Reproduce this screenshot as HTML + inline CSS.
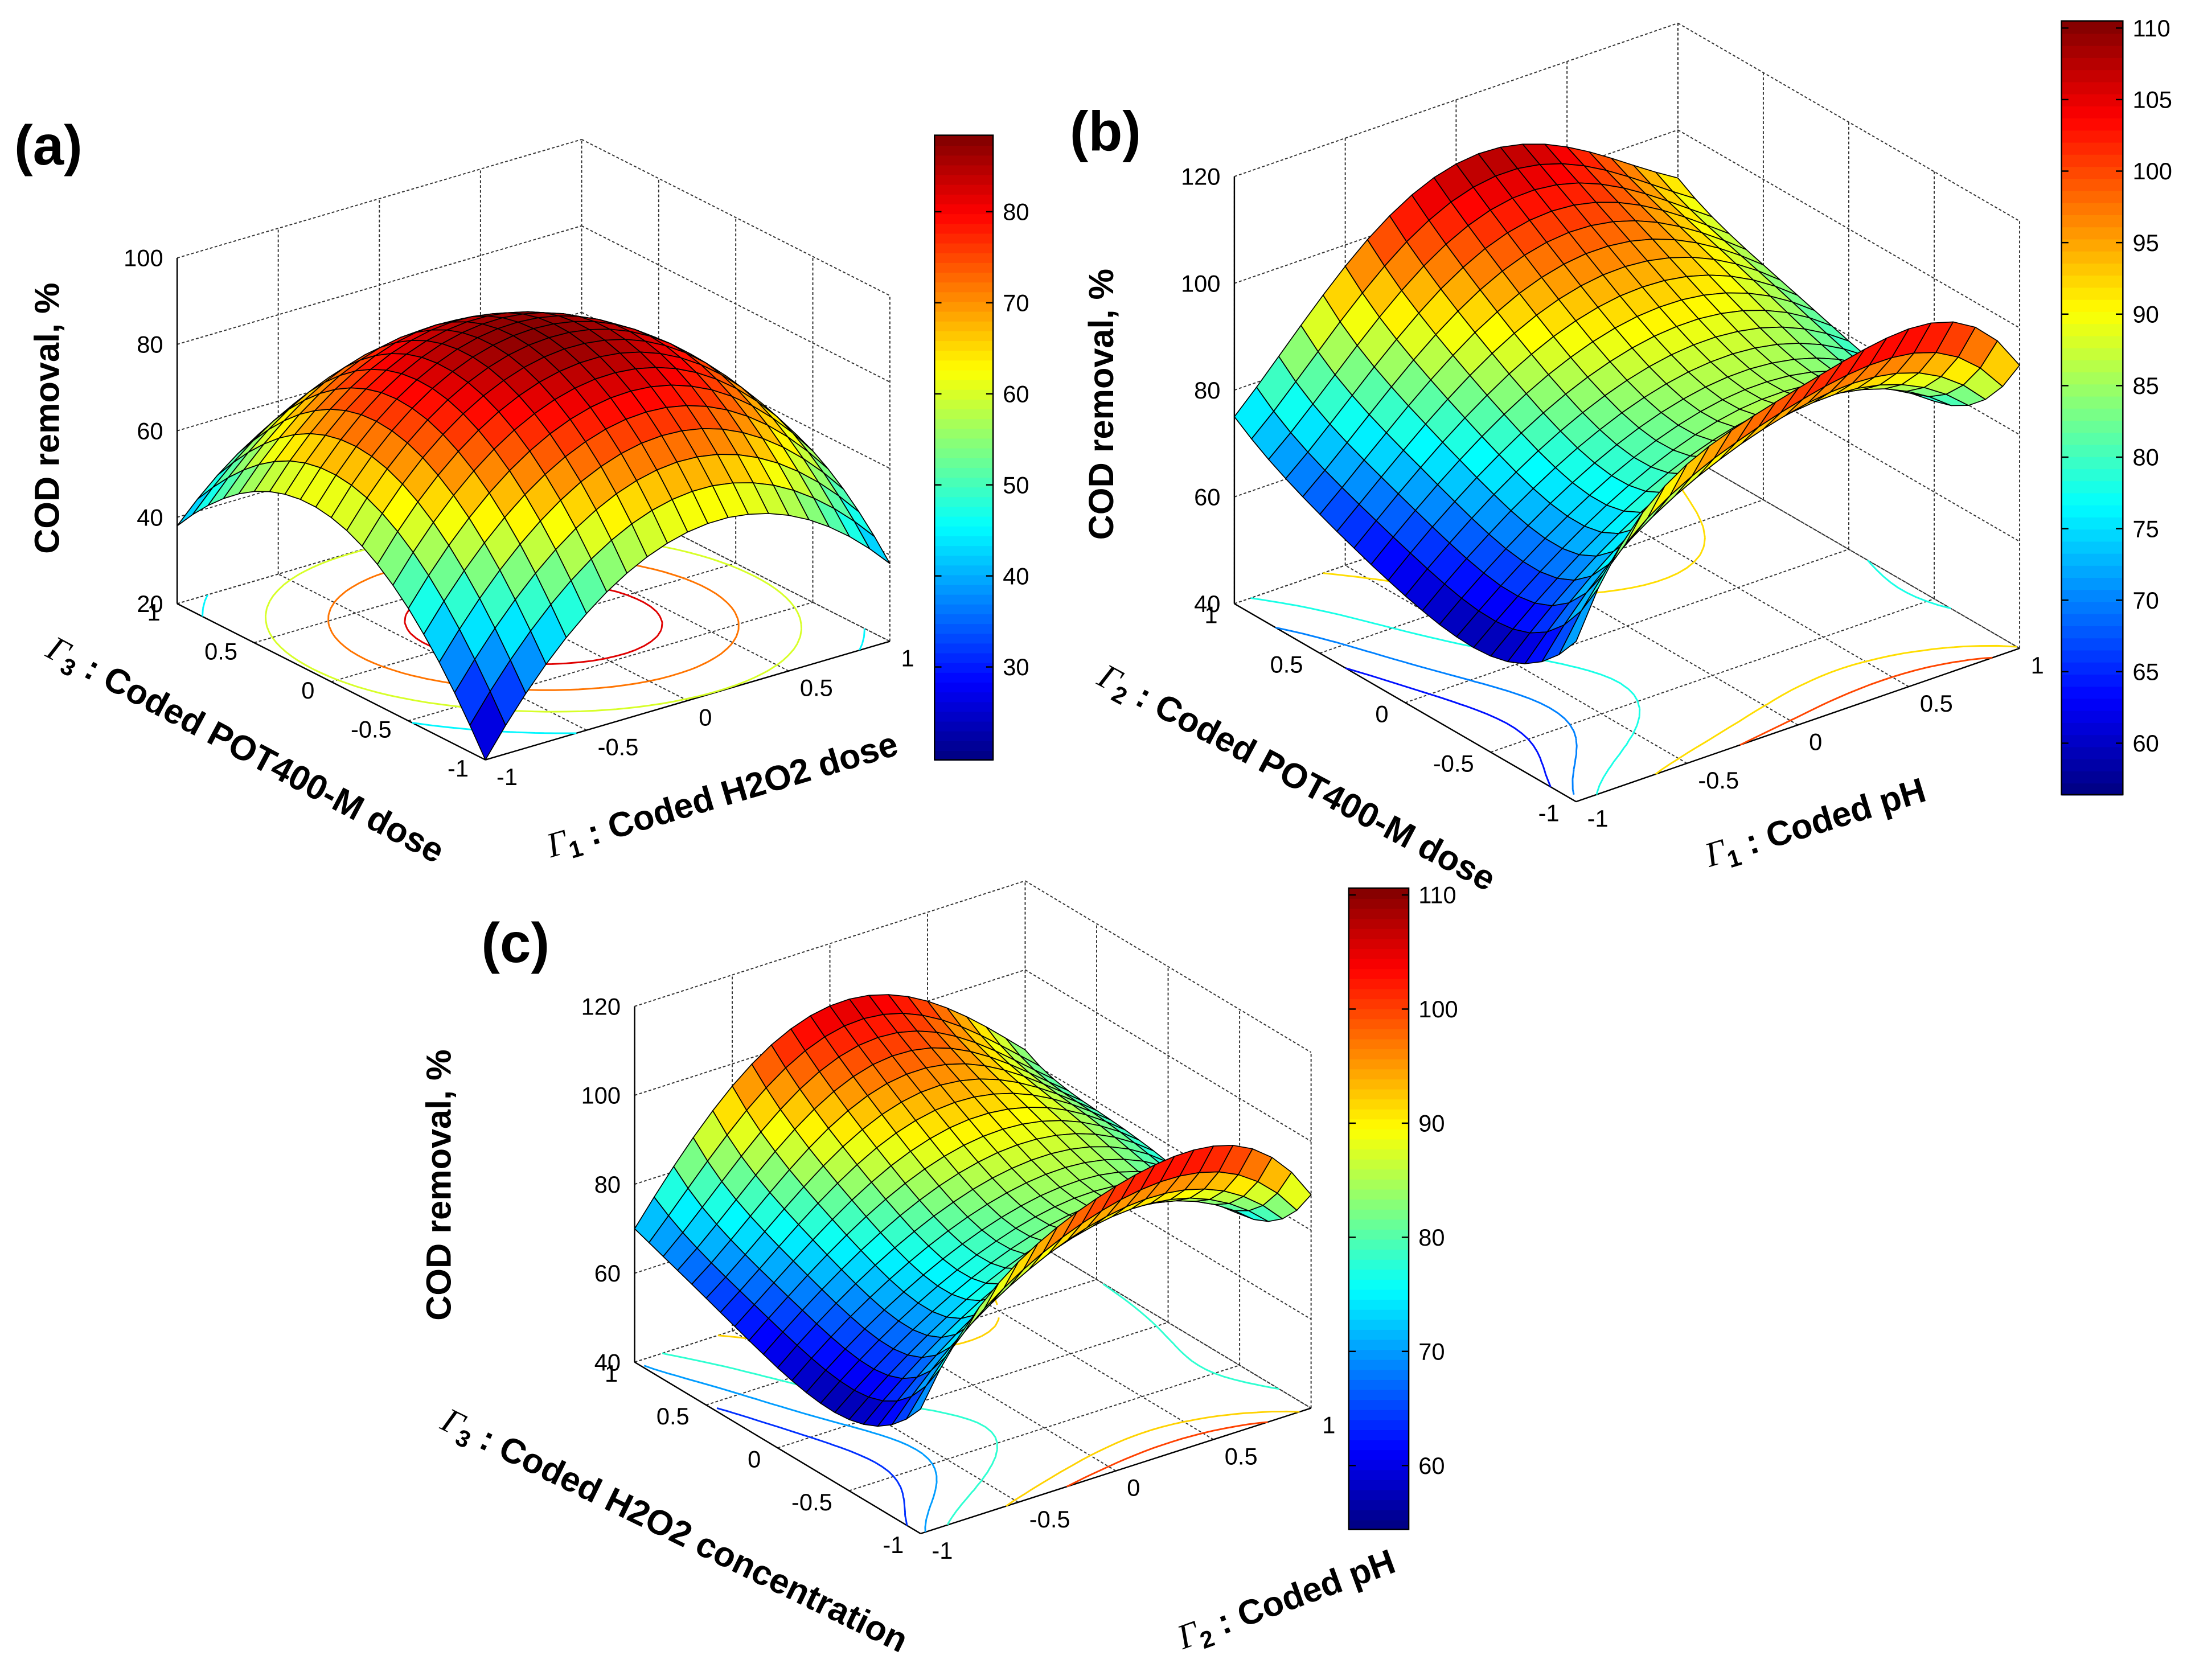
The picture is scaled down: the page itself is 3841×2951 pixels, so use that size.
<!DOCTYPE html>
<html><head><meta charset="utf-8"><style>
html,body{margin:0;padding:0;background:#fff;}
svg{display:block;}
text{font-family:"Liberation Sans",sans-serif;}
</style></head><body>
<svg id="fig" xmlns="http://www.w3.org/2000/svg" width="3841" height="2951" viewBox="0 0 1568 1205" preserveAspectRatio="none">
<rect x="0" y="0" width="1568" height="1205" fill="#fff"/>
</svg>
<script>
// ---- data ----
const codedNodes = [-1, -0.5, 0, 0.5, 1];
const zTicksA = [20, 40, 60, 80, 100];
const zTicksBC = [40, 60, 80, 100, 120];
const axisTickLabels = ["-1", "-0.5", "0", "0.5", "1"];
// rows: second factor (v) = -1..1 ; cols: first factor (u) = -1..1
const surfA = [
  [20, 47, 59, 56, 38],
  [46, 71, 81, 76, 55],
  [58, 81, 88, 81, 58],
  [55, 76, 81, 71, 46],
  [38, 56, 59, 47, 20]
];
const surfB = [
  [70, 96, 103, 107, 93],
  [58, 74, 84, 86, 77],
  [60, 76, 86, 88, 79],
  [66, 84, 96, 96, 84],
  [75, 96, 108, 104, 91]
];
const surfC = [
  [68, 94, 104, 106, 88],
  [56, 72, 82, 84, 74],
  [58, 74, 84, 86, 76],
  [64, 82, 94, 92, 78],
  [70, 95, 106, 100, 82]
];
const cbTicksA = [30, 40, 50, 60, 70, 80];
const cbTicksB = [60, 65, 70, 75, 80, 85, 90, 95, 100, 105, 110];
const cbTicksC = [60, 70, 80, 90, 100, 110];
const contourA = [45, 60, 72, 82];
const contourB = [64, 70, 78, 92, 100];
const contourC = [64, 70, 78, 92, 100];

const NS = "http://www.w3.org/2000/svg";
const svg = document.getElementById('fig');
function mk(tag, attrs, parent) {
  const e = document.createElementNS(NS, tag);
  for (const k in attrs) e.setAttribute(k, attrs[k]);
  (parent || svg).appendChild(e);
  return e;
}
function clamp(x){return Math.max(0,Math.min(1,x));}
function jet(t){
  t = clamp(t);
  const r = clamp(1.5-Math.abs(4*t-3)), g = clamp(1.5-Math.abs(4*t-2)), b = clamp(1.5-Math.abs(4*t-1));
  return 'rgb('+Math.round(r*255)+','+Math.round(g*255)+','+Math.round(b*255)+')';
}
function lag(t){
  return codedNodes.map((ni,i)=>codedNodes.reduce((p,nj,j)=>j===i?p:p*(t-nj)/(ni-nj),1));
}
function evalSurf(grid,u,v){
  const lu = lag(u), lv = lag(v); let s = 0;
  for (let i=0;i<5;i++) for (let j=0;j<5;j++) s += grid[i][j]*lv[i]*lu[j];
  return s;
}

function panel(P){
  const g = mk('g', {});
  
  
  const proj = (u,v,z)=>[P.ox+(u+1)/2*P.U[0]+(v+1)/2*P.V[0], P.oy+(u+1)/2*P.U[1]+(v+1)/2*P.V[1]-(z-P.z0)*P.zs];
  const dash = {stroke:'#333','stroke-width':0.8,'stroke-dasharray':'2,1.5',fill:'none'};
  const line = (a,b,st)=>mk('line',Object.assign({x1:a[0],y1:a[1],x2:b[0],y2:b[1]},st),g);
  const zt = P.zTicks, ztop = zt[zt.length-1];
  codedNodes.forEach(t=>{
    line(proj(t,1,P.z0),proj(t,1,ztop),dash);
    line(proj(1,t,P.z0),proj(1,t,ztop),dash);
    line(proj(t,-1,P.z0),proj(t,1,P.z0),dash);
    line(proj(-1,t,P.z0),proj(1,t,P.z0),dash);
  });
  zt.forEach(z=>{
    line(proj(-1,1,z),proj(1,1,z),dash);
    line(proj(1,1,z),proj(1,-1,z),dash);
  });
  const solid = {stroke:'#000','stroke-width':1,fill:'none'};
  line(proj(-1,1,P.z0),proj(-1,1,ztop),solid);
  line(proj(-1,-1,P.z0),proj(-1,1,P.z0),solid);
  line(proj(-1,-1,P.z0),proj(1,-1,P.z0),solid);
  // contours on floor
  const N2 = 40;
  const vals = [];
  for (let i=0;i<=N2;i++){ vals.push([]); for (let j=0;j<=N2;j++) vals[i].push(evalSurf(P.grid,-1+2*j/N2,-1+2*i/N2)); }
  P.levels.forEach(lv=>{
    let d = '';
    for (let i=0;i<N2;i++) for (let j=0;j<N2;j++){
      const c = [[j,i],[j+1,i],[j+1,i+1],[j,i+1]];
      const pts = [];
      for (let k=0;k<4;k++){
        const a=c[k], b=c[(k+1)%4];
        const va=vals[a[1]][a[0]], vb=vals[b[1]][b[0]];
        if ((va-lv)*(vb-lv)<0){
          const t=(lv-va)/(vb-va);
          const jj=a[0]+t*(b[0]-a[0]), ii=a[1]+t*(b[1]-a[1]);
          pts.push(proj(-1+2*jj/N2,-1+2*ii/N2,P.z0));
        }
      }
      if (pts.length>=2) d += 'M'+pts[0][0].toFixed(1)+' '+pts[0][1].toFixed(1)+'L'+pts[1][0].toFixed(1)+' '+pts[1][1].toFixed(1);
      if (pts.length===4) d += 'M'+pts[2][0].toFixed(1)+' '+pts[2][1].toFixed(1)+'L'+pts[3][0].toFixed(1)+' '+pts[3][1].toFixed(1);
    }
    const cp = mk('path',{d:d,stroke:jet((lv-P.cmin)/(P.cmax-P.cmin)),'stroke-width':1.2,fill:'none'},g);
    
    
  });
  // surface
  const N = 20;
  const quads = [];
  for (let i=0;i<N;i++) for (let j=0;j<N;j++){
    const u0=-1+2*j/N,u1=-1+2*(j+1)/N,v0=-1+2*i/N,v1=-1+2*(i+1)/N;
    const zs=[evalSurf(P.grid,u0,v0),evalSurf(P.grid,u1,v0),evalSurf(P.grid,u1,v1),evalSurf(P.grid,u0,v1)];
    quads.push({d:(u0+u1+v0+v1)/4, pts:[proj(u0,v0,zs[0]),proj(u1,v0,zs[1]),proj(u1,v1,zs[2]),proj(u0,v1,zs[3])], z:(zs[0]+zs[1]+zs[2]+zs[3])/4});
  }
  quads.sort((a,b)=>b.d-a.d);
  const sg = mk('g',{},g);
  
  
  quads.forEach(q=>{
    const p = mk('polygon',{points:q.pts.map(p=>p[0].toFixed(1)+','+p[1].toFixed(1)).join(' '),fill:jet((q.z-P.cmin)/(P.cmax-P.cmin)),stroke:'#000','stroke-width':0.7,'stroke-linejoin':'round'},sg);
    
    
  });
  zt.forEach(z=>{
    const p = proj(-1,1,z);
    const t = mk('text',{x:p[0]-10,y:p[1]+6,'font-size':17,'text-anchor':'end'},g);
    t.textContent = z;
    
    
  });
  codedNodes.forEach((c,k)=>{
    const p = proj(-1,c,P.z0);
    const t = mk('text',{x:p[0]+P.vOff[0],y:p[1]+P.vOff[1],'font-size':17,'text-anchor':'end'},g);
    t.textContent = axisTickLabels[k];
    
    
    const q = proj(c,-1,P.z0);
    const t2 = mk('text',{x:q[0]+P.uOff[0],y:q[1]+P.uOff[1],'font-size':17,'text-anchor':'start'},g);
    t2.textContent = axisTickLabels[k];
    
    
  });
  const cb = P.cb;
  const cbg = mk('g',{},g);
  
  
  const nb = 64;
  for (let k=0;k<nb;k++){
    mk('rect',{x:cb.x,y:cb.y+cb.h*(nb-1-k)/nb,width:cb.w,height:cb.h/nb+0.6,fill:jet((k+0.5)/nb)},cbg);
  }
  mk('rect',{x:cb.x,y:cb.y,width:cb.w,height:cb.h,fill:'none',stroke:'#000','stroke-width':1},cbg);
  cb.ticks.forEach(v=>{
    const y = cb.y+cb.h*(1-(v-P.cmin)/(P.cmax-P.cmin));
    mk('line',{x1:cb.x,y1:y,x2:cb.x+5,y2:y,stroke:'#000','stroke-width':1},cbg);
    mk('line',{x1:cb.x+cb.w-5,y1:y,x2:cb.x+cb.w,y2:y,stroke:'#000','stroke-width':1},cbg);
    const t = mk('text',{x:cb.x+cb.w+7,y:y+6,'font-size':17},cbg);
    t.textContent = v;
    
    
  });
}

panel({name:'panel-a', grid:surfA, ox:348, oy:545, U:[290,-85], V:[-221,-112], z0:20, zs:3.1, zTicks:zTicksA,
  cmin:19.8, cmax:88.4, levels:contourA, vOff:[-12,12], uOff:[8,18],
  cb:{x:670,y:97,w:42,h:448,ticks:cbTicksA}});
panel({name:'panel-b', grid:surfB, ox:1130, oy:575, U:[318,-110], V:[-245,-142], z0:40, zs:3.83, zTicks:zTicksBC,
  cmin:56.4, cmax:110.5, levels:contourB, vOff:[-12,14], uOff:[8,18],
  cb:{x:1478,y:15,w:44,h:555,ticks:cbTicksB}});
panel({name:'panel-c', grid:surfC, ox:660, oy:1100, U:[280,-90], V:[-205,-123], z0:40, zs:3.19, zTicks:zTicksBC,
  cmin:54.4, cmax:110.6, levels:contourC, vOff:[-12,14], uOff:[8,18],
  cb:{x:967,y:637,w:43,h:460,ticks:cbTicksC}});
</script>
<svg style="position:absolute;left:0;top:0" width="3841" height="2951" viewBox="0 0 1568 1205" xmlns="http://www.w3.org/2000/svg">
<g font-family="Liberation Sans, sans-serif" font-weight="bold">
<text x="10" y="118" font-size="40">(a)</text>
<text x="767" y="108" font-size="40">(b)</text>
<text x="345" y="690" font-size="40">(c)</text>
<text transform="translate(42,300) rotate(-90)" text-anchor="middle" font-size="25">COD removal, %</text>
<text transform="translate(798,290) rotate(-90)" text-anchor="middle" font-size="25">COD removal, %</text>
<text transform="translate(323,850) rotate(-90)" text-anchor="middle" font-size="25">COD removal, %</text>
<text transform="translate(172,545) rotate(28)" text-anchor="middle" font-size="25"><tspan font-style="italic" font-weight="normal" font-family="Liberation Serif, serif">Γ</tspan><tspan font-size="17" dy="5">3</tspan><tspan dy="-5"> : Coded POT400-M dose</tspan></text>
<text transform="translate(520,578) rotate(-16.5)" text-anchor="middle" font-size="25"><tspan font-style="italic" font-weight="normal" font-family="Liberation Serif, serif">Γ</tspan><tspan font-size="17" dy="5">1</tspan><tspan dy="-5"> : Coded H2O2  dose</tspan></text>
<text transform="translate(926,565) rotate(28)" text-anchor="middle" font-size="25"><tspan font-style="italic" font-weight="normal" font-family="Liberation Serif, serif">Γ</tspan><tspan font-size="17" dy="5">2</tspan><tspan dy="-5"> : Coded POT400-M dose</tspan></text>
<text transform="translate(1304,598) rotate(-17)" text-anchor="middle" font-size="25"><tspan font-style="italic" font-weight="normal" font-family="Liberation Serif, serif">Γ</tspan><tspan font-size="17" dy="5">1</tspan><tspan dy="-5"> : Coded  pH</tspan></text>
<text transform="translate(480,1105) rotate(26)" text-anchor="middle" font-size="25"><tspan font-style="italic" font-weight="normal" font-family="Liberation Serif, serif">Γ</tspan><tspan font-size="17" dy="5">3</tspan><tspan dy="-5"> : Coded H2O2 concentration</tspan></text>
<text transform="translate(925,1155) rotate(-20)" text-anchor="middle" font-size="25"><tspan font-style="italic" font-weight="normal" font-family="Liberation Serif, serif">Γ</tspan><tspan font-size="17" dy="5">2</tspan><tspan dy="-5"> : Coded pH</tspan></text>
</g>
</svg>
</body></html>
